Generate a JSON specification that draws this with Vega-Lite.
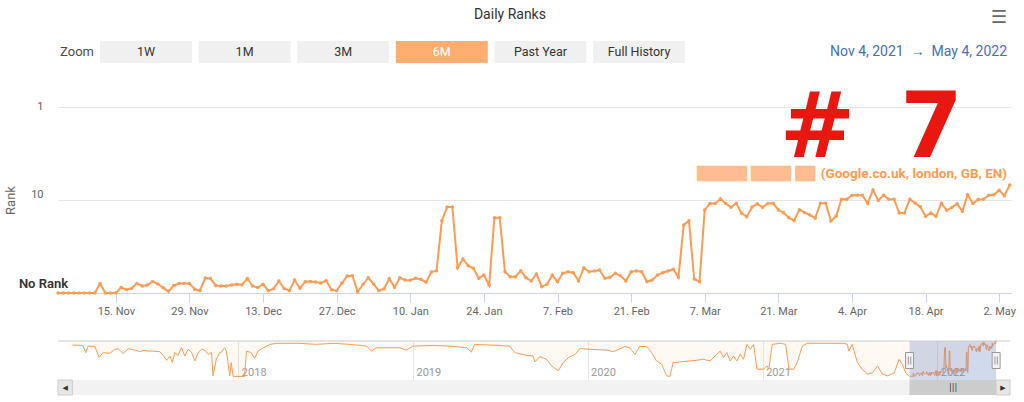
{
  "$schema": "https://vega.github.io/schema/vega-lite/v6.json",
  "padding": {"left": 4, "top": 8, "right": 0, "bottom": 0},
  "autosize": {"type": "pad"},
  "background": "white",
  "title": {"text": "Daily Ranks", "fontSize": 14, "fontWeight": "normal", "color": "#333333", "anchor": "middle", "offset": -13},
  "config": {"font": "Roboto", "view": {"stroke": null}},
  "datasets": {
    "buttons": [{"b": "1W"}, {"b": "1M"}, {"b": "3M"}, {"b": "6M"}, {"b": "Past Year"}, {"b": "Full History"}],
    "range": [{"from": "2021-11-04", "to": "2022-05-04"}],
    "ranks": [
      {"d": "2021-11-04", "r": 100}, {"d": "2021-11-05", "r": 100}, {"d": "2021-11-06", "r": 100}, {"d": "2021-11-07", "r": 100},
      {"d": "2021-11-08", "r": 100}, {"d": "2021-11-09", "r": 100}, {"d": "2021-11-10", "r": 100}, {"d": "2021-11-11", "r": 100},
      {"d": "2021-11-12", "r": 79}, {"d": "2021-11-13", "r": 100}, {"d": "2021-11-14", "r": 100}, {"d": "2021-11-15", "r": 100},
      {"d": "2021-11-16", "r": 87}, {"d": "2021-11-17", "r": 92}, {"d": "2021-11-18", "r": 89}, {"d": "2021-11-19", "r": 79},
      {"d": "2021-11-20", "r": 84}, {"d": "2021-11-21", "r": 82}, {"d": "2021-11-22", "r": 75}, {"d": "2021-11-23", "r": 80},
      {"d": "2021-11-24", "r": 88}, {"d": "2021-11-25", "r": 96}, {"d": "2021-11-26", "r": 83}, {"d": "2021-11-27", "r": 79},
      {"d": "2021-11-28", "r": 79}, {"d": "2021-11-29", "r": 79}, {"d": "2021-11-30", "r": 91}, {"d": "2021-12-01", "r": 94.5},
      {"d": "2021-12-02", "r": 69}, {"d": "2021-12-03", "r": 70}, {"d": "2021-12-04", "r": 83}, {"d": "2021-12-05", "r": 84},
      {"d": "2021-12-06", "r": 84}, {"d": "2021-12-07", "r": 82}, {"d": "2021-12-08", "r": 80.6}, {"d": "2021-12-09", "r": 81.5},
      {"d": "2021-12-10", "r": 70}, {"d": "2021-12-11", "r": 84}, {"d": "2021-12-12", "r": 87}, {"d": "2021-12-13", "r": 80.6},
      {"d": "2021-12-14", "r": 94.5}, {"d": "2021-12-15", "r": 90}, {"d": "2021-12-16", "r": 74.3}, {"d": "2021-12-17", "r": 89.5},
      {"d": "2021-12-18", "r": 94.7}, {"d": "2021-12-19", "r": 72.5}, {"d": "2021-12-20", "r": 89}, {"d": "2021-12-21", "r": 75.8},
      {"d": "2021-12-22", "r": 75.2}, {"d": "2021-12-23", "r": 76.3}, {"d": "2021-12-24", "r": 78}, {"d": "2021-12-25", "r": 74},
      {"d": "2021-12-26", "r": 92}, {"d": "2021-12-27", "r": 94.5}, {"d": "2021-12-28", "r": 78}, {"d": "2021-12-29", "r": 65.7},
      {"d": "2021-12-30", "r": 65.2}, {"d": "2021-12-31", "r": 97}, {"d": "2022-01-01", "r": 81}, {"d": "2022-01-02", "r": 68.5},
      {"d": "2022-01-03", "r": 80}, {"d": "2022-01-04", "r": 94.7}, {"d": "2022-01-05", "r": 90.6}, {"d": "2022-01-06", "r": 70},
      {"d": "2022-01-07", "r": 86.8}, {"d": "2022-01-08", "r": 68.5}, {"d": "2022-01-09", "r": 72.5}, {"d": "2022-01-10", "r": 73},
      {"d": "2022-01-11", "r": 69.5}, {"d": "2022-01-12", "r": 71.2}, {"d": "2022-01-13", "r": 76.5}, {"d": "2022-01-14", "r": 59.5},
      {"d": "2022-01-15", "r": 57.6}, {"d": "2022-01-16", "r": 16.7}, {"d": "2022-01-17", "r": 11.9}, {"d": "2022-01-18", "r": 11.9},
      {"d": "2022-01-19", "r": 53.5}, {"d": "2022-01-20", "r": 43.1}, {"d": "2022-01-21", "r": 50.9}, {"d": "2022-01-22", "r": 54.3},
      {"d": "2022-01-23", "r": 69.5}, {"d": "2022-01-24", "r": 64.1}, {"d": "2022-01-25", "r": 82.7}, {"d": "2022-01-26", "r": 15.5},
      {"d": "2022-01-27", "r": 15.5}, {"d": "2022-01-28", "r": 59}, {"d": "2022-01-29", "r": 66.8}, {"d": "2022-01-30", "r": 66.8},
      {"d": "2022-01-31", "r": 57.6}, {"d": "2022-02-01", "r": 68.5}, {"d": "2022-02-02", "r": 74.3}, {"d": "2022-02-03", "r": 62.5},
      {"d": "2022-02-04", "r": 85.6}, {"d": "2022-02-05", "r": 80.6}, {"d": "2022-02-06", "r": 64.1}, {"d": "2022-02-07", "r": 75.6},
      {"d": "2022-02-08", "r": 61.4}, {"d": "2022-02-09", "r": 59}, {"d": "2022-02-10", "r": 60.5}, {"d": "2022-02-11", "r": 74.3},
      {"d": "2022-02-12", "r": 53.5}, {"d": "2022-02-13", "r": 59}, {"d": "2022-02-14", "r": 58}, {"d": "2022-02-15", "r": 56.6},
      {"d": "2022-02-16", "r": 69.5}, {"d": "2022-02-17", "r": 67.8}, {"d": "2022-02-18", "r": 61.4}, {"d": "2022-02-19", "r": 65.2},
      {"d": "2022-02-20", "r": 74.3}, {"d": "2022-02-21", "r": 59}, {"d": "2022-02-22", "r": 58}, {"d": "2022-02-23", "r": 59},
      {"d": "2022-02-24", "r": 75.6}, {"d": "2022-02-25", "r": 72.5}, {"d": "2022-02-26", "r": 64.1}, {"d": "2022-02-27", "r": 60.5},
      {"d": "2022-02-28", "r": 58}, {"d": "2022-03-01", "r": 55.6}, {"d": "2022-03-02", "r": 67.8}, {"d": "2022-03-03", "r": 18.6},
      {"d": "2022-03-04", "r": 16.7}, {"d": "2022-03-05", "r": 70.7}, {"d": "2022-03-06", "r": 75.6}, {"d": "2022-03-07", "r": 12.8},
      {"d": "2022-03-08", "r": 10.9}, {"d": "2022-03-09", "r": 10.9}, {"d": "2022-03-10", "r": 9.7}, {"d": "2022-03-11", "r": 10.9},
      {"d": "2022-03-12", "r": 12}, {"d": "2022-03-13", "r": 10.85}, {"d": "2022-03-14", "r": 13.9}, {"d": "2022-03-15", "r": 15.1},
      {"d": "2022-03-16", "r": 11.9}, {"d": "2022-03-17", "r": 11}, {"d": "2022-03-18", "r": 12}, {"d": "2022-03-19", "r": 10.9},
      {"d": "2022-03-20", "r": 10.85}, {"d": "2022-03-21", "r": 12.8}, {"d": "2022-03-22", "r": 13.7}, {"d": "2022-03-23", "r": 15.5},
      {"d": "2022-03-24", "r": 16.7}, {"d": "2022-03-25", "r": 12.7}, {"d": "2022-03-26", "r": 13.7}, {"d": "2022-03-27", "r": 14.5},
      {"d": "2022-03-28", "r": 15.7}, {"d": "2022-03-29", "r": 10.85}, {"d": "2022-03-30", "r": 10.85}, {"d": "2022-03-31", "r": 16.8},
      {"d": "2022-04-01", "r": 14.9}, {"d": "2022-04-02", "r": 9.8}, {"d": "2022-04-03", "r": 9.8}, {"d": "2022-04-04", "r": 8.9},
      {"d": "2022-04-05", "r": 8.9}, {"d": "2022-04-06", "r": 8.9}, {"d": "2022-04-07", "r": 10.9}, {"d": "2022-04-08", "r": 7.8},
      {"d": "2022-04-09", "r": 10.1}, {"d": "2022-04-10", "r": 8.9}, {"d": "2022-04-11", "r": 9.8}, {"d": "2022-04-12", "r": 9.8},
      {"d": "2022-04-13", "r": 13.8}, {"d": "2022-04-14", "r": 13.8}, {"d": "2022-04-15", "r": 9.8}, {"d": "2022-04-16", "r": 10.8},
      {"d": "2022-04-17", "r": 11.8}, {"d": "2022-04-18", "r": 15}, {"d": "2022-04-19", "r": 13.8}, {"d": "2022-04-20", "r": 15},
      {"d": "2022-04-21", "r": 10.8}, {"d": "2022-04-22", "r": 12.9}, {"d": "2022-04-23", "r": 12}, {"d": "2022-04-24", "r": 11},
      {"d": "2022-04-25", "r": 13.2}, {"d": "2022-04-26", "r": 8.8}, {"d": "2022-04-27", "r": 10.9}, {"d": "2022-04-28", "r": 9.9},
      {"d": "2022-04-29", "r": 9.8}, {"d": "2022-04-30", "r": 8.9}, {"d": "2022-05-01", "r": 8.8}, {"d": "2022-05-02", "r": 7.85},
      {"d": "2022-05-03", "r": 9}, {"d": "2022-05-04", "r": 6.9}
    ],
    "hist": [
      {"d": "2017-01-19", "r": 10.1}, {"d": "2017-02-10", "r": 10.4}, {"d": "2017-02-16", "r": 17.6}, {"d": "2017-02-21", "r": 10.9},
      {"d": "2017-03-07", "r": 11.2}, {"d": "2017-03-16", "r": 25}, {"d": "2017-03-24", "r": 17.6}, {"d": "2017-04-07", "r": 18.5},
      {"d": "2017-04-18", "r": 13.8}, {"d": "2017-04-25", "r": 13.2}, {"d": "2017-05-05", "r": 18.9}, {"d": "2017-05-16", "r": 13.2},
      {"d": "2017-05-30", "r": 14.6}, {"d": "2017-06-09", "r": 16.4}, {"d": "2017-06-16", "r": 15}, {"d": "2017-06-27", "r": 15.7},
      {"d": "2017-07-07", "r": 15.7}, {"d": "2017-07-21", "r": 16.4}, {"d": "2017-07-28", "r": 21.4}, {"d": "2017-08-04", "r": 30.7},
      {"d": "2017-08-11", "r": 22.5}, {"d": "2017-08-16", "r": 36.3}, {"d": "2017-08-21", "r": 17.6}, {"d": "2017-08-28", "r": 21.4},
      {"d": "2017-09-04", "r": 12.3}, {"d": "2017-09-11", "r": 22.5}, {"d": "2017-09-18", "r": 13.8}, {"d": "2017-09-25", "r": 16.9},
      {"d": "2017-10-02", "r": 32.3}, {"d": "2017-10-09", "r": 17.6}, {"d": "2017-10-16", "r": 13.8}, {"d": "2017-10-23", "r": 14.6},
      {"d": "2017-10-30", "r": 19.9}, {"d": "2017-11-06", "r": 17.6}, {"d": "2017-11-09", "r": 95.7}, {"d": "2017-11-16", "r": 28.6},
      {"d": "2017-11-23", "r": 17.6}, {"d": "2017-11-26", "r": 17.6}, {"d": "2017-12-03", "r": 12.3}, {"d": "2017-12-07", "r": 15.7},
      {"d": "2017-12-14", "r": 95.7}, {"d": "2017-12-17", "r": 36.3}, {"d": "2017-12-21", "r": 100}, {"d": "2018-01-14", "r": 100},
      {"d": "2018-01-18", "r": 15.7}, {"d": "2018-01-28", "r": 17.6}, {"d": "2018-02-04", "r": 26.9}, {"d": "2018-02-11", "r": 15.7},
      {"d": "2018-02-22", "r": 12.3}, {"d": "2018-03-08", "r": 9.6}, {"d": "2018-03-22", "r": 8.9}, {"d": "2018-05-09", "r": 8.9},
      {"d": "2018-06-13", "r": 9.6}, {"d": "2018-07-18", "r": 8.9}, {"d": "2018-08-22", "r": 9.6}, {"d": "2018-09-26", "r": 10.9},
      {"d": "2018-10-06", "r": 15.7}, {"d": "2018-10-16", "r": 12.3}, {"d": "2018-12-04", "r": 12.3}, {"d": "2018-12-18", "r": 14.6},
      {"d": "2019-01-01", "r": 10.9}, {"d": "2019-02-12", "r": 10.4}, {"d": "2019-03-19", "r": 10.9}, {"d": "2019-04-23", "r": 12.3},
      {"d": "2019-05-03", "r": 16.9}, {"d": "2019-05-10", "r": 9.6}, {"d": "2019-07-01", "r": 10.4}, {"d": "2019-07-22", "r": 10.9},
      {"d": "2019-08-02", "r": 17.6}, {"d": "2019-08-26", "r": 21.4}, {"d": "2019-09-09", "r": 22.5}, {"d": "2019-09-13", "r": 34.7},
      {"d": "2019-09-23", "r": 23.5}, {"d": "2019-10-07", "r": 28.6}, {"d": "2019-10-18", "r": 46.4}, {"d": "2019-10-25", "r": 56.3},
      {"d": "2019-11-01", "r": 66.4}, {"d": "2019-11-11", "r": 36.3}, {"d": "2019-11-22", "r": 25.3}, {"d": "2019-12-06", "r": 19.9},
      {"d": "2019-12-16", "r": 13}, {"d": "2020-01-06", "r": 13.8}, {"d": "2020-02-10", "r": 14.6}, {"d": "2020-02-24", "r": 16.4},
      {"d": "2020-03-19", "r": 11.2}, {"d": "2020-03-29", "r": 12.3}, {"d": "2020-04-09", "r": 19.9}, {"d": "2020-04-19", "r": 11.2},
      {"d": "2020-05-03", "r": 11.2}, {"d": "2020-05-14", "r": 17.6}, {"d": "2020-05-24", "r": 32.3}, {"d": "2020-06-04", "r": 41.2},
      {"d": "2020-06-14", "r": 95.7}, {"d": "2020-06-21", "r": 100}, {"d": "2020-06-28", "r": 36.3}, {"d": "2020-07-12", "r": 34.7},
      {"d": "2020-08-02", "r": 32.3}, {"d": "2020-08-16", "r": 30.7}, {"d": "2020-08-30", "r": 28.6}, {"d": "2020-09-13", "r": 32.3},
      {"d": "2020-10-04", "r": 15.7}, {"d": "2020-10-11", "r": 25.3}, {"d": "2020-10-18", "r": 17.6}, {"d": "2020-10-25", "r": 32.3},
      {"d": "2020-11-01", "r": 22.5}, {"d": "2020-11-08", "r": 32.3}, {"d": "2020-11-15", "r": 19.9}, {"d": "2020-11-22", "r": 28.6},
      {"d": "2020-11-29", "r": 9.6}, {"d": "2020-12-06", "r": 13.8}, {"d": "2020-12-13", "r": 9.6}, {"d": "2020-12-20", "r": 59},
      {"d": "2021-01-03", "r": 59}, {"d": "2021-01-10", "r": 46.4}, {"d": "2021-01-14", "r": 59}, {"d": "2021-01-21", "r": 9.6},
      {"d": "2021-02-07", "r": 8.9}, {"d": "2021-02-18", "r": 9.6}, {"d": "2021-02-25", "r": 59}, {"d": "2021-03-07", "r": 59},
      {"d": "2021-03-14", "r": 36.3}, {"d": "2021-03-25", "r": 10.9}, {"d": "2021-04-04", "r": 8.9}, {"d": "2021-06-20", "r": 8.9},
      {"d": "2021-06-27", "r": 9.6}, {"d": "2021-06-30", "r": 15.7}, {"d": "2021-07-07", "r": 9.6}, {"d": "2021-07-18", "r": 36.3},
      {"d": "2021-07-28", "r": 59}, {"d": "2021-08-08", "r": 84.7}, {"d": "2021-08-18", "r": 78}, {"d": "2021-08-29", "r": 46.4},
      {"d": "2021-09-08", "r": 84.7}, {"d": "2021-09-19", "r": 95.7}, {"d": "2021-10-03", "r": 78}, {"d": "2021-10-13", "r": 28.6},
      {"d": "2021-10-20", "r": 41.2}, {"d": "2021-10-27", "r": 78}, {"d": "2021-11-03", "r": 95.7}
    ]
  },
  "spacing": 21,
  "vconcat": [
    {
      "hconcat": [
        {
          "width": 38, "height": 22,
          "data": {"values": [{"t": "Zoom"}]},
          "mark": {"type": "text", "fontSize": 13, "color": "#4d4d4d"},
          "encoding": {"text": {"field": "t"}}
        },
        {
          "width": 585, "height": 22,
          "data": {"name": "buttons"},
          "encoding": {
            "x": {"field": "b", "type": "nominal", "sort": null, "scale": {"paddingInner": 0.068, "paddingOuter": 0}, "axis": null}
          },
          "layer": [
            {
              "mark": {"type": "rect"},
              "encoding": {"color": {"condition": {"test": "datum.b == '6M'", "value": "#ffad70"}, "value": "#f0f0f0"}}
            },
            {
              "mark": {"type": "text", "fontSize": 12.5},
              "encoding": {
                "text": {"field": "b"},
                "color": {"condition": {"test": "datum.b == '6M'", "value": "#ffffff"}, "value": "#333333"}
              }
            }
          ]
        },
        {
          "width": 318, "height": 22,
          "title": {"text": "\u2630", "anchor": "end", "baseline": "bottom", "offset": -4, "fontSize": 18, "font": "DejaVu Sans", "fontWeight": "normal", "color": "#666666"},
          "data": {"values": [{"t": "Nov 4, 2021\u00a0\u00a0\u2192\u00a0\u00a0May 4, 2022"}]},
          "mark": {"type": "text", "align": "right", "fontSize": 14, "color": "#4570c0"},
          "encoding": {"x": {"value": "width"}, "text": {"field": "t"}}
        }
      ],
      "spacing": 4,
      "bounds": "flush"
    },
    {
      "width": 953, "height": 186,
      "layer": [
        {
          "data": {"name": "ranks"},
          "mark": {"type": "line", "color": "#ff9b52", "strokeWidth": 2},
          "encoding": {
            "x": {
              "field": "d", "type": "temporal", "title": null,
              "scale": {"type": "utc", "domain": [{"year": 2021, "month": 11, "date": 4, "utc": true}, {"year": 2022, "month": 5, "date": 4, "hours": 6, "utc": true}]},
              "axis": {
                "values": [
                  {"year": 2021, "month": 11, "date": 15, "utc": true}, {"year": 2021, "month": 11, "date": 29, "utc": true},
                  {"year": 2021, "month": 12, "date": 13, "utc": true}, {"year": 2021, "month": 12, "date": 27, "utc": true},
                  {"year": 2022, "month": 1, "date": 10, "utc": true}, {"year": 2022, "month": 1, "date": 24, "utc": true},
                  {"year": 2022, "month": 2, "date": 7, "utc": true}, {"year": 2022, "month": 2, "date": 21, "utc": true},
                  {"year": 2022, "month": 3, "date": 7, "utc": true}, {"year": 2022, "month": 3, "date": 21, "utc": true},
                  {"year": 2022, "month": 4, "date": 4, "utc": true}, {"year": 2022, "month": 4, "date": 18, "utc": true},
                  {"year": 2022, "month": 5, "date": 2, "utc": true}
                ],
                "format": "%-d. %b", "grid": false,
                "domainColor": "#ccd6eb", "tickColor": "#ccd6eb", "tickSize": 9,
                "labelColor": "#666666", "labelFontSize": 11, "labelPadding": 3,
                "labelOverlap": false, "labelFlush": false
              }
            },
            "y": {
              "field": "r", "type": "quantitative", "title": "Rank",
              "scale": {"type": "log", "domain": [1, 100], "reverse": true, "nice": false},
              "axis": {
                "values": [1, 10, 100], "format": "d",
                "labelExpr": "datum.value == 100 ? 'No Rank' : datum.label",
                "grid": true, "gridColor": "#e6e6e6", "domain": false, "ticks": false,
                "labelPadding": 15, "labelBaseline": "middle",
                "labelColor": {"condition": {"test": "datum.value == 100", "value": "#333333"}, "value": "#666666"},
                "labelFontSize": {"condition": {"test": "datum.value == 100", "value": 13}, "value": 11},
                "labelFontWeight": {"condition": {"test": "datum.value == 100", "value": 600}, "value": 400},
                "labelAlign": {"condition": {"test": "datum.value == 100", "value": "center"}, "value": "right"},
                "labelOffset": {"condition": [{"test": "datum.value == 100", "value": -10}, {"test": "datum.value == 10", "value": -6}], "value": -1},
                "titleColor": "#666666", "titleFontSize": 13, "titleFontWeight": "normal", "titlePadding": 1
              }
            }
          }
        },
        {
          "data": {"name": "ranks"},
          "mark": {"type": "point", "filled": true, "size": 12, "color": "#ff9b52", "opacity": 1},
          "encoding": {
            "x": {"field": "d", "type": "temporal", "title": null},
            "y": {"field": "r", "type": "quantitative", "title": "Rank"}
          }
        },
        {
          "data": {"values": [{}]},
          "mark": {"type": "text", "align": "right", "baseline": "middle", "fontSize": 13, "font": "DejaVu Sans", "color": "#ffa669", "opacity": 0.75},
          "encoding": {
            "x": {"datum": {"year": 2022, "month": 3, "date": 28, "utc": true}, "type": "temporal"},
            "y": {"datum": 5.25, "type": "quantitative"},
            "text": {"value": "\u2588\u2588\u2588\u2588\u2588 \u2588\u2588\u2588\u2588 \u2588\u2588"}
          }
        },
        {
          "data": {"values": [{}]},
          "mark": {"type": "text", "align": "right", "baseline": "middle", "fontSize": 13.5, "fontWeight": "bold", "color": "#ff9b52"},
          "encoding": {
            "x": {"datum": {"year": 2022, "month": 5, "date": 3, "hours": 12, "utc": true}, "type": "temporal"},
            "y": {"datum": 5.25, "type": "quantitative"},
            "text": {"value": "(Google.co.uk, london, GB, EN)"}
          }
        },
        {
          "data": {"values": [{}]},
          "mark": {"type": "text", "align": "left", "baseline": "alphabetic", "fontSize": 90, "fontWeight": "bold", "font": "DejaVu Sans", "color": "#e8170f"},
          "encoding": {
            "x": {"datum": {"year": 2022, "month": 3, "date": 21, "hours": 7, "utc": true}, "type": "temporal"},
            "y": {"datum": 3.44, "type": "quantitative"},
            "text": {"value": "#\u20027"}
          }
        }
      ]
    },
    {
      "vconcat": [
        {
          "width": 952, "height": 39,
          "layer": [
            {
              "data": {"name": "hist"},
              "mark": {"type": "area", "color": "#ff9b52", "opacity": 0.07},
              "encoding": {
                "x": {
                  "field": "d", "type": "temporal", "title": null,
                  "scale": {"type": "utc", "domain": [{"year": 2016, "month": 12, "date": 20, "utc": true}, {"year": 2022, "month": 6, "date": 2, "utc": true}]},
                  "axis": {
                    "values": [
                      {"year": 2018, "month": 1, "date": 1, "utc": true}, {"year": 2019, "month": 1, "date": 1, "utc": true},
                      {"year": 2020, "month": 1, "date": 1, "utc": true}, {"year": 2021, "month": 1, "date": 1, "utc": true},
                      {"year": 2022, "month": 1, "date": 1, "utc": true}
                    ],
                    "format": "%Y", "grid": true, "gridColor": "#e6e6e6", "ticks": false, "domain": false,
                    "labelAlign": "left", "labelBaseline": "top", "labelPadding": -14, "labelOffset": 3,
                    "labelColor": "#999999", "labelFontSize": 11, "labelFlush": false, "labelOverlap": false
                  }
                },
                "y": {"field": "r", "type": "quantitative", "title": null, "scale": {"type": "log", "domain": [7.5, 130], "reverse": true, "nice": false}, "axis": null},
                "y2": {"datum": 7.5}
              }
            },
            {
              "data": {"name": "ranks"},
              "mark": {"type": "area", "color": "#ff9b52", "opacity": 0.07},
              "encoding": {
                "x": {"field": "d", "type": "temporal", "title": null},
                "y": {"field": "r", "type": "quantitative", "title": null},
                "y2": {"datum": 7.5}
              }
            },
            {
              "data": {"name": "hist"},
              "mark": {"type": "line", "color": "#ff9b52", "strokeWidth": 1},
              "encoding": {
                "x": {"field": "d", "type": "temporal", "title": null},
                "y": {"field": "r", "type": "quantitative", "title": null}
              }
            },
            {
              "data": {"name": "ranks"},
              "mark": {"type": "line", "color": "#ff9b52", "strokeWidth": 1},
              "encoding": {
                "x": {"field": "d", "type": "temporal", "title": null},
                "y": {"field": "r", "type": "quantitative", "title": null}
              }
            },
            {
              "data": {"name": "range"},
              "mark": {"type": "rect", "color": "#6685c2", "opacity": 0.3},
              "encoding": {
                "x": {"field": "from", "type": "temporal", "title": null},
                "x2": {"field": "to"}
              }
            },
            {
              "data": {"values": [{}]},
              "mark": {"type": "rule", "color": "#cccccc"},
              "encoding": {"y": {"datum": 7.5}}
            },
            {
              "data": {"name": "range"},
              "mark": {"type": "point", "shape": "M-0.5,-1H0.5V1H-0.5Z M-0.15,-0.5V0.5 M0.15,-0.5V0.5", "size": 256, "filled": true, "fill": "#f2f2f2", "stroke": "#999999", "strokeWidth": 1, "opacity": 1},
              "encoding": {"x": {"field": "from", "type": "temporal", "title": null}}
            },
            {
              "data": {"name": "range"},
              "mark": {"type": "point", "shape": "M-0.5,-1H0.5V1H-0.5Z M-0.15,-0.5V0.5 M0.15,-0.5V0.5", "size": 256, "filled": true, "fill": "#f2f2f2", "stroke": "#999999", "strokeWidth": 1, "opacity": 1},
              "encoding": {"x": {"field": "to", "type": "temporal", "title": null}}
            }
          ]
        },
        {
          "width": 952, "height": 15,
          "layer": [
            {
              "data": {"values": [{}]},
              "mark": {"type": "rect", "color": "#f2f2f2"},
              "encoding": {}
            },
            {
              "data": {"values": [{}]},
              "mark": {"type": "rect", "color": "#e6e6e6", "stroke": "#cccccc", "strokeWidth": 1},
              "encoding": {
                "x": {
                  "datum": {"year": 2016, "month": 12, "date": 20, "utc": true}, "type": "temporal",
                  "scale": {"type": "utc", "domain": [{"year": 2016, "month": 12, "date": 20, "utc": true}, {"year": 2022, "month": 6, "date": 2, "utc": true}]},
                  "axis": null
                },
                "x2": {"datum": {"year": 2017, "month": 1, "date": 19, "utc": true}}
              }
            },
            {
              "data": {"values": [{}]},
              "mark": {"type": "rect", "color": "#e6e6e6", "stroke": "#cccccc", "strokeWidth": 1},
              "encoding": {
                "x": {"datum": {"year": 2022, "month": 5, "date": 4, "utc": true}, "type": "temporal"},
                "x2": {"datum": {"year": 2022, "month": 6, "date": 2, "utc": true}}
              }
            },
            {
              "data": {"name": "range"},
              "mark": {"type": "rect", "color": "#cccccc"},
              "encoding": {
                "x": {"field": "from", "type": "temporal", "title": null},
                "x2": {"field": "to"}
              }
            },
            {
              "data": {"values": [{}]},
              "mark": {"type": "text", "fontSize": 7, "font": "DejaVu Sans", "color": "#333333"},
              "encoding": {
                "x": {"datum": {"year": 2017, "month": 1, "date": 4, "utc": true}, "type": "temporal"},
                "text": {"value": "\u25c0"}
              }
            },
            {
              "data": {"values": [{}]},
              "mark": {"type": "text", "fontSize": 7, "font": "DejaVu Sans", "color": "#333333"},
              "encoding": {
                "x": {"datum": {"year": 2022, "month": 5, "date": 18, "utc": true}, "type": "temporal"},
                "text": {"value": "\u25b6"}
              }
            },
            {
              "data": {"values": [{}]},
              "mark": {"type": "text", "fontSize": 8, "font": "DejaVu Sans", "color": "#333333"},
              "encoding": {
                "x": {"datum": {"year": 2022, "month": 2, "date": 3, "utc": true}, "type": "temporal"},
                "text": {"value": "|||"}
              }
            }
          ]
        }
      ],
      "spacing": 0,
      "bounds": "flush"
    }
  ]
}
